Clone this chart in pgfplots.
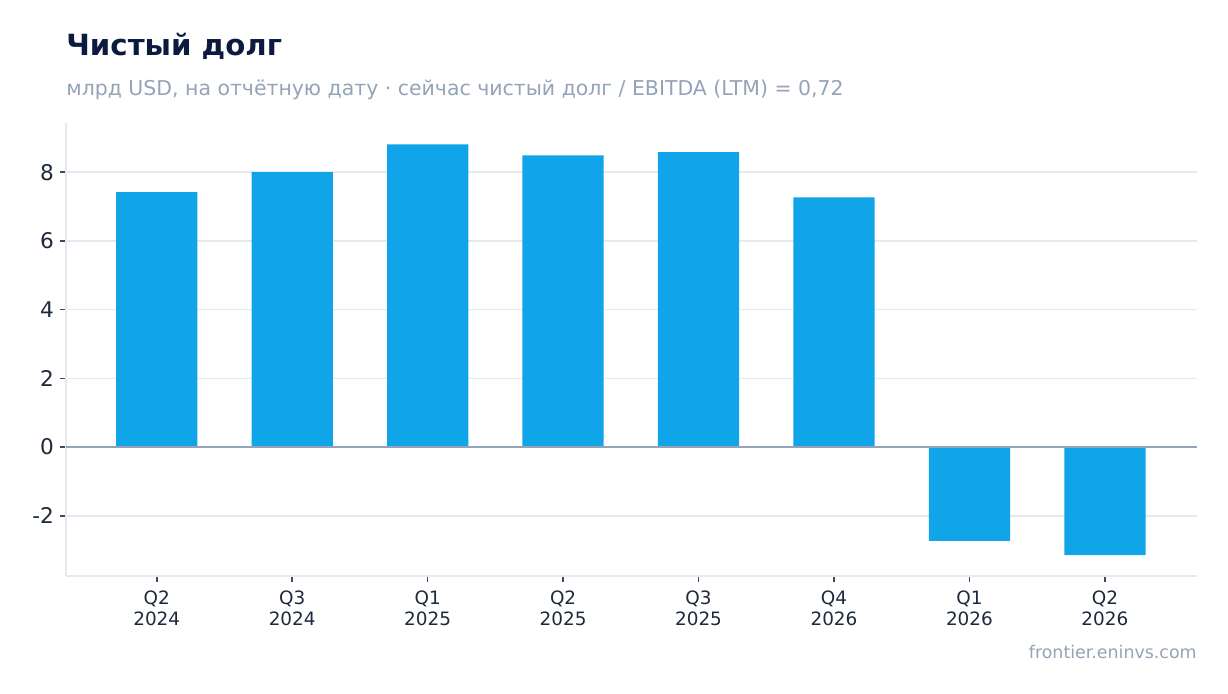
\documentclass[border=0pt]{standalone}
\usepackage{pgfplots}
\pgfplotsset{compat=1.18}
\usepackage{fontspec}
\setmainfont{DejaVu Sans}
\definecolor{barc}{HTML}{10A5E8}
\definecolor{titlec}{HTML}{0B1A3F}
\definecolor{subc}{HTML}{94A3B8}
\definecolor{gridc}{HTML}{E5E9F0}
\definecolor{tickc}{HTML}{1E293B}
\definecolor{zeroc}{HTML}{94A3B8}
\begin{document}
\begin{tikzpicture}
\useasboundingbox (0,0) rectangle (614pt,346.5pt);
\node[anchor=base west, inner sep=0pt, text=titlec, font=\bfseries\fontsize{14.6}{17}\selectfont] at (33pt,319pt) {Чистый долг};
\node[anchor=base west, inner sep=0pt, text=subc, font=\fontsize{10.22}{12}\selectfont] at (33pt,299pt) {млрд USD, на отчётную дату · сейчас чистый долг / EBITDA (LTM) = 0,72};
\node[anchor=base east, inner sep=0pt, text=subc, font=\fontsize{8.7}{10}\selectfont] at (598.5pt,17.5pt) {frontier.eninvs.com};
\begin{axis}[
  at={(33pt,58.5pt)}, anchor=south west,
  width=565.5pt, height=226.5pt, scale only axis,
  xmin=-0.67, xmax=7.68, ymin=-3.75, ymax=9.43,
  axis x line*=bottom, axis y line*=left,
  axis line style={gridc, line width=1pt, -},
  ybar, bar width=0.6, bar shift=0pt,
  xtick={0,...,7},
  xticklabels={{Q2\\2024},{Q3\\2024},{Q1\\2025},{Q2\\2025},{Q3\\2025},{Q4\\2026},{Q1\\2026},{Q2\\2026}},
  xticklabel style={align=center, text=tickc, font=\fontsize{9.2}{10.5}\selectfont, yshift=-1pt},
  ytick={-2,0,2,4,6,8},
  yticklabels={-2,0,2,4,6,8},
  yticklabel style={text=tickc, font=\fontsize{10.8}{12}\selectfont, xshift=0.5pt},
  tick align=outside, major tick length=3pt,
  tick style={tickc!85, line width=0.8pt},
  ymajorgrids, grid style={gridc, line width=0.8pt},
  clip=false,
]
\addplot[fill=barc, draw=none] coordinates {(0,7.42) (1,8.0) (2,8.81) (3,8.49) (4,8.58) (5,7.27) (6,-2.73) (7,-3.14)};
\addplot[zeroc, line width=1pt, sharp plot] coordinates {(-0.67,0) (7.68,0)};
\end{axis}
\end{tikzpicture}
\end{document}
